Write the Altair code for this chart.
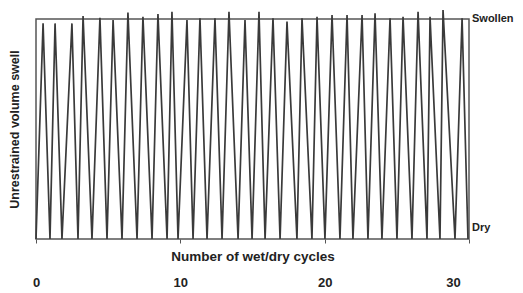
import altair as alt
import pandas as pd

# Vertex positions (cycle number) of the wet/dry zig-zag
cycle_pos = [0.00, 0.49, 0.97, 1.32, 1.80, 2.49, 2.91, 3.26, 3.88, 4.43,
             4.92, 5.34, 5.96, 6.37, 7.00, 7.41, 8.04, 8.45, 9.08, 9.42,
             9.84, 10.46, 10.88, 11.36, 11.85, 12.40, 12.89, 13.37, 14.00, 14.48,
             14.97, 15.45, 15.87, 16.42, 16.91, 17.39, 18.08, 18.43, 19.12, 19.47,
             20.02, 20.51, 21.06, 21.55, 21.96, 22.59, 23.00, 23.49, 23.97, 24.53,
             25.01, 25.43, 26.05, 26.47, 27.09, 27.30, 27.99, 28.20, 29.03, 29.52,
             29.93]
# Relative swell (0 = dry, 1 = swollen)
swell = [0.00, 0.98, 0.00, 0.98, 0.00, 0.98, 0.00, 1.014, 0.00, 1.005,
         0.00, 0.995, 0.00, 1.029, 0.00, 1.01, 0.00, 1.023, 0.00, 1.033,
         0.00, 0.995, 0.00, 1.003, 0.00, 1.003, 0.00, 1.033, 0.00, 0.995,
         0.00, 1.033, 0.00, 1.003, 0.00, 0.988, 0.00, 1.003, 0.00, 1.01,
         0.00, 1.018, 0.00, 1.018, 0.00, 1.018, 0.00, 1.026, 0.00, 1.003,
         0.00, 1.01, 0.00, 1.033, 0.00, 1.01, 0.00, 1.041, 0.00, 1.003,
         0.00]

state_labels = ["Swollen", "Dry"]
state_levels = [1.0, 0.05]

x_ticks = [0, 10, 20, 30]

FONT = "Liberation Sans"
INK = "#3a3a3a"

df = pd.DataFrame({"cycle": cycle_pos, "swell": swell, "order": list(range(len(cycle_pos)))})
states = pd.DataFrame({"label": state_labels, "level": state_levels})

W, H = 433, 220

x_scale = alt.Scale(domain=[0, 30], nice=False, zero=False)
y_scale = alt.Scale(domain=[0, 1], nice=False)

line = alt.Chart(df).mark_line(color=INK, strokeWidth=1.7).encode(
    x=alt.X("cycle:Q", scale=x_scale,
            axis=alt.Axis(values=x_ticks, title="Number of wet/dry cycles",
                          grid=False, domain=False, tickSize=4, tickColor="#555",
                          labelPadding=33, labelFont=FONT, labelFontSize=13,
                          labelFontWeight="bold", labelColor="#222", labelFlush=False,
                          labelOffset=alt.condition("datum.value == 30", alt.value(-16), alt.value(0)),
                          titleFont=FONT, titleFontSize=13.5, titleFontWeight="bold",
                          titleColor="#222", titleY=17, titleBaseline="middle")),
    y=alt.Y("swell:Q", scale=y_scale,
            axis=alt.Axis(title="Unrestrained volume swell", labels=False, ticks=False,
                          domain=False, grid=False, titleFont=FONT, titleFontSize=12.5,
                          titleFontWeight="bold", titleColor="#222", titleAngle=-90,
                          titleX=-22, titleY=H / 2, titleAlign="center",
                          titleBaseline="middle")),
    order="order:Q",
)

labels = alt.Chart(states).mark_text(align="left", baseline="middle", font=FONT,
                                      fontSize=11, fontWeight="bold", color="#222").encode(
    x=alt.value(W + 3),
    y=alt.Y("level:Q", scale=y_scale),
    text="label:N",
)

chart = (line + labels).properties(
    width=W, height=H,
    autosize=alt.AutoSizeParams(type="none"),
    padding={"left": 28, "top": 11, "right": 46, "bottom": 54},
    background="white",
).configure_view(stroke="#555", strokeWidth=1.5)

chart.save("out.html", embed_options={"renderer": "svg", "actions": False})
